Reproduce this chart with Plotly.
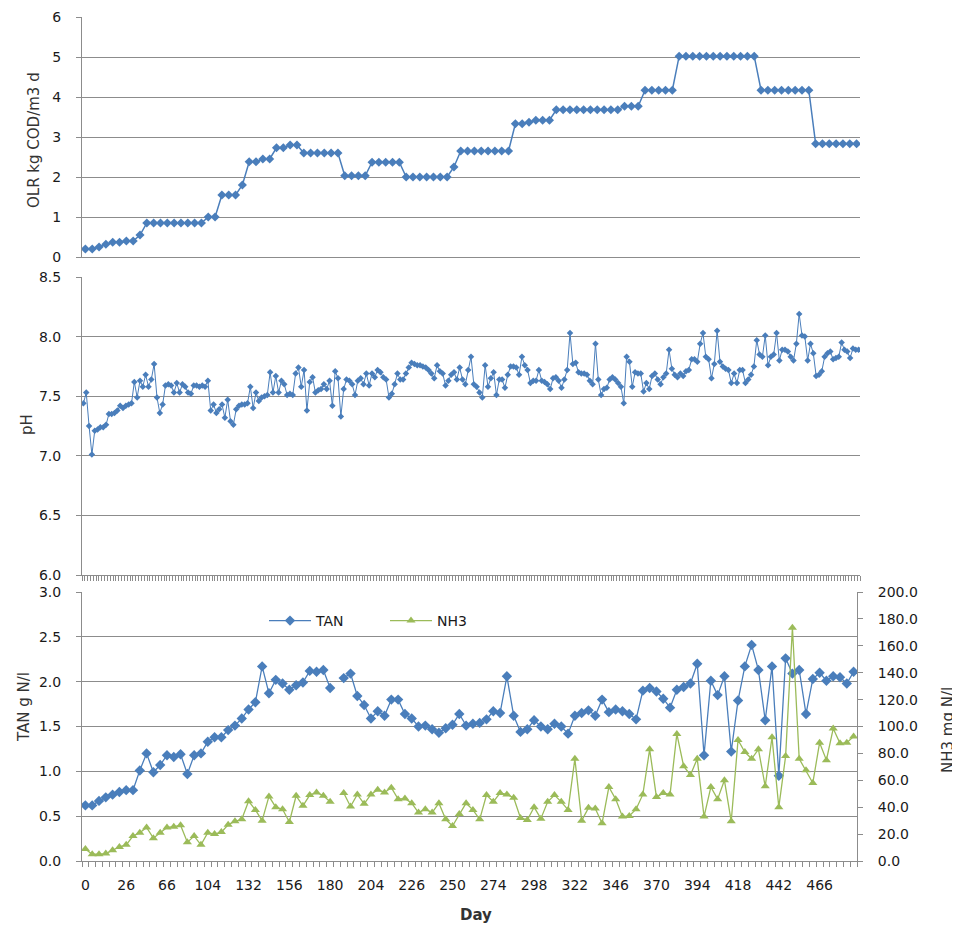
import plotly.graph_objects as go

W, H = 960, 926
OFF = 8                      # page offset of the figure inside the browser
ML, MR, MT, MB = 74, 108, 9, 73
PW = W - ML - MR             # plot-area width in px
PHT = H - MT - MB            # plot-area height in px


def fx(p):
    """screen x pixel -> paper fraction"""
    return (p - OFF - ML) / PW


def fy(p):
    """screen y pixel -> paper fraction"""
    return 1 - (p - OFF - MT) / PHT


# ---------------- data ----------------
DAY_LABELS = [0, 26, 66, 104, 132, 156, 180, 204, 226, 250, 274, 298,
              322, 346, 370, 394, 418, 442, 466]

OLR = ([0.2, 0.2, 0.25, 0.32, 0.37, 0.37, 0.4, 0.4, 0.55]
       + [0.85] * 9 + [1.0] * 2 + [1.55] * 3 + [1.8] + [2.38] * 2
       + [2.45] * 2 + [2.73] * 2 + [2.8] * 2 + [2.6] * 6 + [2.03] * 4
       + [2.37] * 5 + [2.0] * 7 + [2.25] + [2.65] * 8 + [3.33] * 2
       + [3.37] + [3.42] * 3 + [3.68] * 10 + [3.77] * 3 + [4.17] * 5
       + [5.02] * 12 + [4.17] * 8 + [2.83] * 7)

PH_PART1 = [7.44, 7.53, 7.25, 7.01, 7.21, 7.22, 7.24, 7.24, 7.26,
            7.35, 7.35, 7.36, 7.38,
            7.42, 7.40, 7.42, 7.43, 7.44,
            7.62, 7.49, 7.63, 7.58, 7.68, 7.58, 7.64, 7.77, 7.49, 7.36, 7.43,
            7.59, 7.60, 7.59, 7.53, 7.61, 7.53, 7.60, 7.58, 7.53, 7.52, 7.59,
            7.59, 7.58, 7.59, 7.58, 7.63,
            7.38, 7.43, 7.36, 7.39, 7.43, 7.32, 7.47, 7.29, 7.26,
            7.39, 7.42, 7.43, 7.43, 7.44,
            7.58, 7.40, 7.53, 7.46, 7.49, 7.50, 7.51, 7.70, 7.53, 7.67, 7.53,
            7.63, 7.60, 7.51, 7.52, 7.51,
            7.69, 7.74, 7.58, 7.72, 7.38, 7.62, 7.66, 7.53, 7.55, 7.56, 7.60,
            7.56,
            7.63, 7.42, 7.71, 7.65, 7.33]
PH_PART2 = [7.56, 7.64, 7.63, 7.60, 7.51, 7.63, 7.65, 7.60, 7.69, 7.59,
            7.69, 7.66, 7.72, 7.70, 7.66, 7.64, 7.49, 7.52, 7.60, 7.69,
            7.64, 7.64, 7.69, 7.74, 7.78, 7.77, 7.76, 7.76, 7.75, 7.74,
            7.72, 7.69, 7.65, 7.76, 7.71, 7.69, 7.59, 7.63, 7.68, 7.70,
            7.64, 7.74, 7.64, 7.60, 7.72, 7.83, 7.60, 7.58, 7.53, 7.49,
            7.76, 7.58, 7.65, 7.70, 7.51, 7.64, 7.64, 7.57, 7.68, 7.75,
            7.75, 7.74, 7.68, 7.83, 7.76, 7.72, 7.61, 7.63, 7.63, 7.72,
            7.63, 7.62, 7.60, 7.56, 7.65, 7.66, 7.63, 7.57, 7.64, 7.72,
            8.03, 7.77, 7.78, 7.70, 7.69, 7.69, 7.68, 7.63, 7.60, 7.94,
            7.64, 7.51, 7.56]
PH_PART3 = [7.57, 7.64, 7.66, 7.64, 7.61, 7.58, 7.44, 7.83, 7.79, 7.58,
            7.70, 7.69, 7.69, 7.54, 7.61, 7.56, 7.67, 7.69, 7.64, 7.60,
            7.66, 7.69, 7.89, 7.73, 7.68, 7.66, 7.69, 7.67, 7.71,
            7.72, 7.81, 7.81, 7.79, 7.94, 8.03, 7.83, 7.81, 7.65, 7.77,
            8.05, 7.79, 7.75, 7.73, 7.72, 7.61, 7.69, 7.61, 7.72,
            7.72, 7.61, 7.64, 7.68, 7.75, 7.97, 7.85, 7.83, 8.01, 7.76,
            7.83, 7.85, 8.03, 7.80, 7.89, 7.89, 7.875, 7.83, 7.80,
            7.94, 8.19, 8.01, 8.00, 7.80, 7.94, 7.86, 7.67, 7.68,
            7.71, 7.83, 7.86, 7.875, 7.81, 7.82, 7.83, 7.95, 7.89,
            7.875, 7.82, 7.90, 7.89, 7.89]
PH = PH_PART1 + PH_PART2 + PH_PART3

TAN = [0.62, 0.62, 0.67, 0.71, 0.74, 0.77, 0.79, 0.79, 1.01, 1.20,
       0.99, 1.07, 1.18, 1.16, 1.19, 0.97, 1.18, 1.20, 1.33, 1.38,
       1.38, 1.46, 1.51, 1.59, 1.69, 1.77, 2.17, 1.87, 2.02, 1.98,
       1.91, 1.96, 1.99, 2.12, 2.11, 2.13, 1.93, None, 2.04, 2.09,
       1.84, 1.74, 1.59, 1.67, 1.62, 1.80, 1.80, 1.64, 1.59, 1.50,
       1.51, 1.47, 1.43, 1.48, 1.52, 1.64, 1.51, 1.53, 1.54, 1.58,
       1.67, 1.65, 2.06, 1.62, 1.44, 1.47, 1.57, 1.50, 1.47, 1.53,
       1.50, 1.42, 1.62, 1.65, 1.68, 1.62, 1.80, 1.66, 1.69, 1.67,
       1.64, 1.58, 1.90, 1.93, 1.89, 1.81, 1.71, 1.91, 1.94, 1.98,
       2.20, 1.18, 2.01, 1.85, 2.06, 1.22, 1.79, 2.17, 2.41, 2.13,
       1.57, 2.17, 0.95, 2.26, 2.09, 2.13, 1.64, 2.03, 2.10, 2.01,
       2.06, 2.05, 1.98, 2.11]

NH3 = [9, 5, 5, 5.5, 8, 10.5, 12, 18.5, 21, 25,
       17, 21, 25, 25.5, 26.5, 14, 18.5, 12, 21, 20,
       21.5, 27, 29.5, 31, 44.5, 38, 30, 48, 40, 38.5,
       29, 48.5, 41, 49, 51, 48.5, 44, None, 50.5, 40.5,
       49.5, 42.5, 49.5, 53, 51, 54.5, 46, 46.5, 43, 36,
       38.5, 36, 43, 31, 26, 35, 43, 38, 31, 49,
       44, 50.5, 49.5, 47, 32, 30.5, 40, 31.5, 44, 49,
       44, 38, 76, 30, 39.5, 39, 28, 55, 46, 33,
       33.5, 38.5, 49.5, 83, 47.5, 50.5, 49.5, 94.5, 70.5, 64,
       76, 33, 55, 46, 60, 29.5, 90, 81, 76, 83,
       55.5, 92, 40, 78, 173.5, 76, 67.5, 58, 88, 75,
       98.5, 87.5, 88, 92.5]

LABEL_STEP = 6

# ---------------- styling ----------------
BLUE = "#4A7EBB"
GREEN = "#9BBB59"
GRID = "#8C8C8C"
TXT = "#1a1a1a"
TITLE_C = "#333333"
FONT = "DejaVu Sans"

n = len(TAN)
idx = list(range(n))
ph_idx = list(range(len(PH)))

fig = go.Figure()
fig.add_trace(go.Scatter(
    x=idx, y=OLR, xaxis="x", yaxis="y", mode="lines+markers",
    line=dict(color=BLUE, width=1.5),
    marker=dict(symbol="diamond", size=7, color=BLUE), showlegend=False))
fig.add_trace(go.Scatter(
    x=ph_idx, y=PH, xaxis="x2", yaxis="y2", mode="lines+markers",
    line=dict(color=BLUE, width=1),
    marker=dict(symbol="diamond", size=5, color=BLUE), showlegend=False))
fig.add_trace(go.Scatter(
    x=idx, y=TAN, xaxis="x3", yaxis="y3", mode="lines+markers", name="TAN",
    line=dict(color=BLUE, width=1.3), connectgaps=False,
    marker=dict(symbol="diamond", size=8, color=BLUE)))
fig.add_trace(go.Scatter(
    x=idx, y=NH3, xaxis="x3", yaxis="y4", mode="lines+markers", name="NH3",
    line=dict(color=GREEN, width=1.3), connectgaps=False,
    marker=dict(symbol="triangle-up", size=8, color=GREEN)))

tickfont = dict(family=FONT, size=14, color=TXT)
yax_common = dict(showgrid=True, gridcolor=GRID, gridwidth=1, zeroline=False,
                  showline=True, linecolor=GRID, linewidth=1,
                  ticks="outside", ticklen=5, tickcolor=GRID,
                  tickfont=tickfont, ticklabelstandoff=12)

top_dom = [fx(82), fx(860)]
bot_dom = [fx(82), fx(857)]

fig.update_layout(
    width=W, height=H,
    margin=dict(l=ML, r=MR, t=MT, b=MB, autoexpand=False),
    paper_bgcolor="white", plot_bgcolor="white",
    font=dict(family=FONT, color=TXT),
    xaxis=dict(domain=top_dom, anchor="y", range=[-0.5, n - 0.5],
               showticklabels=False, showgrid=False, zeroline=False,
               showline=True, linecolor=GRID, ticks=""),
    yaxis=dict(domain=[fy(257), fy(17)], anchor="x", range=[0, 6],
               tickmode="linear", tick0=0, dtick=1, **yax_common),
    xaxis2=dict(domain=top_dom, anchor="y2",
                range=[-0.5, len(PH) - 0.5],
                showticklabels=False, showgrid=False, zeroline=False,
                showline=True, linecolor=GRID, ticks="",
                minor=dict(tickmode="linear", tick0=-0.5, dtick=1,
                           ticks="outside", ticklen=5, tickcolor=GRID,
                           showgrid=False)),
    yaxis2=dict(domain=[fy(575), fy(277)], anchor="x2", range=[6, 8.5],
                tickmode="linear", tick0=6, dtick=0.5, tickformat=".1f",
                **yax_common),
    xaxis3=dict(domain=bot_dom, anchor="y3", range=[-0.5, n - 0.5],
                tickmode="array",
                tickvals=[i * LABEL_STEP for i in range(len(DAY_LABELS))],
                ticktext=[str(d) for d in DAY_LABELS],
                ticks="", tickfont=tickfont, ticklabelstandoff=11,
                showgrid=False, zeroline=False,
                showline=True, linecolor=GRID,
                minor=dict(tickmode="linear", tick0=-0.5, dtick=1,
                           ticks="outside", ticklen=5, tickcolor=GRID,
                           showgrid=False)),
    yaxis3=dict(domain=[fy(861), fy(592)], anchor="x3", range=[0, 3],
                tickmode="linear", tick0=0, dtick=0.5, tickformat=".1f",
                **yax_common),
    yaxis4=dict(anchor="x3", overlaying="y3", side="right", range=[0, 200],
                tickmode="linear", tick0=0, dtick=20, tickformat=".1f",
                showgrid=False, zeroline=False,
                showline=True, linecolor=GRID, linewidth=1,
                ticks="outside", ticklen=5, tickcolor=GRID,
                tickfont=tickfont, ticklabelstandoff=12),
    legend=dict(orientation="h", x=fx(264), y=fy(621),
                xanchor="left", yanchor="middle",
                bgcolor="rgba(0,0,0,0)",
                font=dict(family=FONT, size=14, color=TXT),
                itemwidth=42,
                entrywidth=64, entrywidthmode="pixels"),
)

title_font = dict(family=FONT, size=15, color=TITLE_C)
annos = [
    dict(text="OLR kg COD/m3 d", x=fx(34), y=fy(140), textangle=-90),
    dict(text="pH", x=fx(27), y=fy(424), textangle=-90),
    dict(text="TAN g N/l", x=fx(24), y=fy(707), textangle=-90),
    dict(text="NH3 mg N/l", x=fx(948), y=fy(730), textangle=-90),
    dict(text="Day", x=fx(476), y=fy(915), textangle=0,
         font=dict(family=FONT, size=15, color=TITLE_C, weight=600)),
]
for a in annos:
    fig.add_annotation(xref="paper", yref="paper", showarrow=False,
                       xanchor="center", yanchor="middle",
                       font=a.pop("font", title_font), **a)

fig.write_html("out.html")
